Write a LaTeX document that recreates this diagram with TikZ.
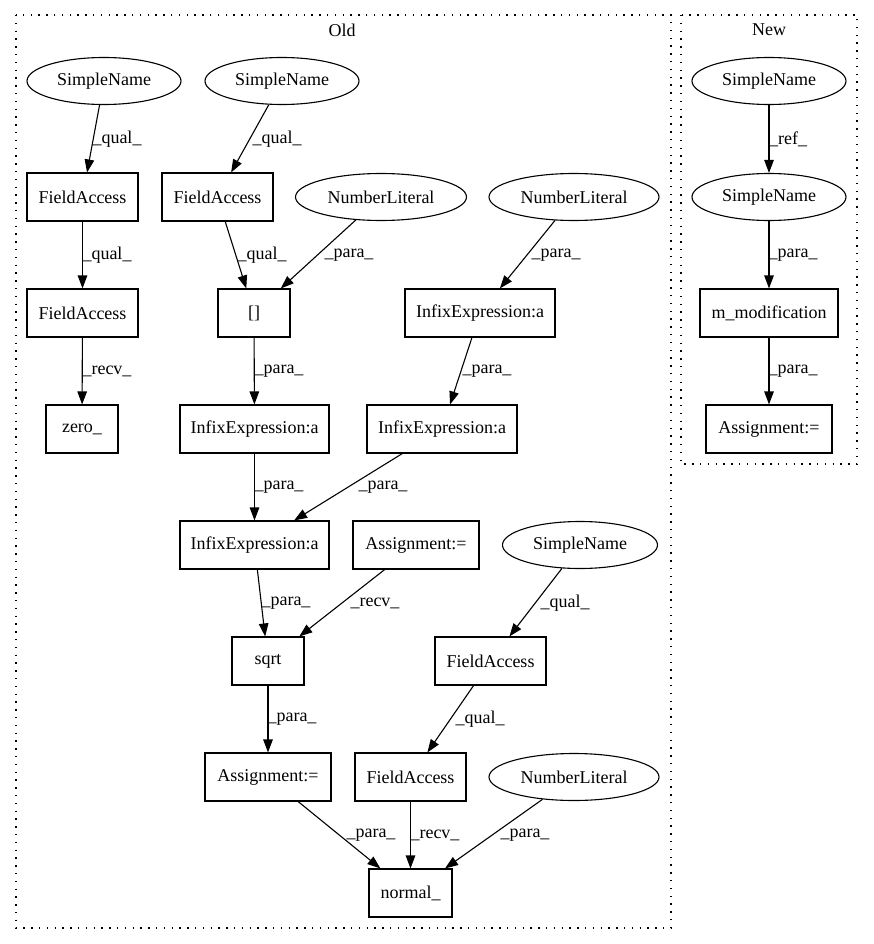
\documentclass[tikz,border=0pt]{standalone}
\usepackage{fontspec}
\setmainfont{Liberation Serif}
\usetikzlibrary{arrows.meta,shapes.geometric}
\begin{document}
\begin{tikzpicture}[x=1pt,y=-1pt,
  every node/.style={font=\fontsize{18}{21}\selectfont},
  box/.style={draw,rectangle,line width=1.1pt,minimum height=48pt,inner sep=0pt},
  ell/.style={draw,ellipse,line width=1.1pt,minimum height=47pt,inner sep=0pt},
  e/.style={line width=1.1pt,-{Triangle[length=13pt,width=9.5pt]}},
  lbl/.style={inner sep=0pt},
  clus/.style={line width=1.2pt,dash pattern=on 1.4pt off 6.4pt}]
\useasboundingbox (0,0) rectangle (873,944);
% clusters
\draw[clus] (16,15) rectangle (671,928);
\draw[clus] (681,15) rectangle (857,464);
\node[lbl] (tOld) at (342,30) {Old};
\node[lbl] (tNew) at (769,30) {New};
% Old nodes
\node[ell,minimum width=154pt] (sn1) at (104,81) {SimpleName};
\node[ell,minimum width=154pt] (sn2) at (282,81) {SimpleName};
\node[box,minimum width=111pt] (fa1) at (82.5,197) {FieldAccess};
\node[box,minimum width=111pt] (fa2) at (217.5,197) {FieldAccess};
\node[ell,minimum width=171pt] (nl1) at (381,197) {NumberLiteral};
\node[ell,minimum width=170pt] (nl2) at (574,197) {NumberLiteral};
\node[box,minimum width=111pt] (fa3) at (82.5,313) {FieldAccess};
\node[box,minimum width=72pt] (br) at (254,313) {[]};
\node[box,minimum width=150pt] (ie1) at (480,313) {InfixExpression:a};
\node[box,minimum width=72pt] (zero) at (82,429) {zero\_};
\node[box,minimum width=149pt] (ie2) at (254.5,429) {InfixExpression:a};
\node[box,minimum width=150pt] (ie3) at (442,429) {InfixExpression:a};
\node[box,minimum width=149pt] (ie4) at (254.5,545) {InfixExpression:a};
\node[box,minimum width=126pt] (as1) at (416,545) {Assignment:=};
\node[ell,minimum width=155pt] (sn3) at (580,545) {SimpleName};
\node[box,minimum width=72pt] (sqrt) at (268,661) {sqrt};
\node[box,minimum width=111pt] (fa4) at (490.5,661) {FieldAccess};
\node[box,minimum width=126pt] (as2) at (268,777) {Assignment:=};
\node[box,minimum width=111pt] (fa5) at (410.5,777) {FieldAccess};
\node[ell,minimum width=170pt] (nl3) at (574,777) {NumberLiteral};
\node[box,minimum width=83pt] (norm) at (410.5,893) {normal\_};
% New nodes
\node[ell,minimum width=154pt] (sn4) at (769,81) {SimpleName};
\node[ell,minimum width=154pt] (sn5) at (769,197) {SimpleName};
\node[box,minimum width=138pt] (mm) at (769,313) {m\_modification};
\node[box,minimum width=126pt] (as3) at (769,429) {Assignment:=};
% edges
\draw[e] (sn1) -- (fa1);
\draw[e] (sn2) -- (fa2);
\draw[e] (fa1) -- (fa3);
\draw[e] (fa2) -- (br);
\draw[e] (nl1) -- (br);
\draw[e] (nl2) -- (ie1);
\draw[e] (fa3) -- (zero);
\draw[e] (br) -- (ie2);
\draw[e] (ie1) -- (ie3);
\draw[e] (ie2) -- (ie4);
\draw[e] (ie3) -- (ie4);
\draw[e] (ie4) -- (sqrt);
\draw[e] (as1) -- (sqrt);
\draw[e] (sn3) -- (fa4);
\draw[e] (sqrt) -- (as2);
\draw[e] (fa4) -- (fa5);
\draw[e] (as2) -- (norm);
\draw[e] (fa5) -- (norm);
\draw[e] (nl3) -- (norm);
\draw[e] (sn4) -- (sn5);
\draw[e] (sn5) -- (mm);
\draw[e] (mm) -- (as3);
% edge labels
\node[lbl] (l1) at (117,139) {\_qual\_};
\node[lbl] (l2) at (277,139) {\_qual\_};
\node[lbl] (l3) at (107,255) {\_qual\_};
\node[lbl] (l4) at (262,255) {\_qual\_};
\node[lbl] (l5) at (349,255) {\_para\_};
\node[lbl] (l6) at (556,255) {\_para\_};
\node[lbl] (l7) at (107,371) {\_recv\_};
\node[lbl] (l8) at (279,371) {\_para\_};
\node[lbl] (l9) at (487,371) {\_para\_};
\node[lbl] (l10) at (279,487) {\_para\_};
\node[lbl] (l11) at (383,487) {\_para\_};
\node[lbl] (l12) at (286,603) {\_para\_};
\node[lbl] (l13) at (375,603) {\_recv\_};
\node[lbl] (l14) at (565,603) {\_qual\_};
\node[lbl] (l15) at (292,719) {\_para\_};
\node[lbl] (l16) at (480,719) {\_qual\_};
\node[lbl] (l17) at (371,835) {\_para\_};
\node[lbl] (l18) at (435,835) {\_recv\_};
\node[lbl] (l19) at (525,835) {\_para\_};
\node[lbl] (l20) at (788,139) {\_ref\_};
\node[lbl] (l21) at (793,255) {\_para\_};
\node[lbl] (l22) at (793,371) {\_para\_};
\end{tikzpicture}
\end{document}
